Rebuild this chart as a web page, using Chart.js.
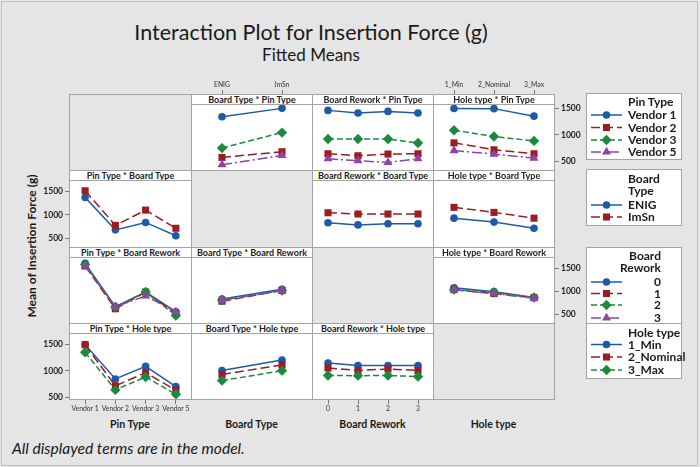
<!DOCTYPE html>
<html>
<head>
<meta charset="utf-8">
<script src="https://cdn.jsdelivr.net/npm/chart.js@4.4.1/dist/chart.umd.min.js"></script>
<style>
html,body{margin:0;padding:0;}
body{width:700px;height:467px;background:#e5e5e5;position:relative;overflow:hidden;font-family:Lato,"Open Sans",sans-serif;color:#1a1a1a;}
.abs{position:absolute;}
#frame{position:absolute;left:1px;top:1px;width:695px;height:463px;border:1px solid #c2c2c2;}
.hdr{position:absolute;background:#fff;border-bottom:1px solid #a3a3a3;text-align:center;font-size:9px;font-weight:700;line-height:10px;white-space:nowrap;overflow:hidden;z-index:3;color:#222;}
.vline,.hline{position:absolute;background:#a3a3a3;z-index:4;}
canvas{position:absolute;z-index:2;}
.axt{position:absolute;font-size:10.5px;font-weight:700;white-space:nowrap;text-align:center;color:#1a1a1a;line-height:16px;}
.lg{position:absolute;background:#fff;border:1px solid #a3a3a3;box-sizing:border-box;z-index:1;}
.lgt{position:absolute;font-size:12px;font-weight:700;white-space:nowrap;color:#1a1a1a;z-index:5;line-height:12px;}
</style>
</head>
<body>
<div id="frame"></div>
<div class="abs" id="title" style="left:0;width:622px;top:18px;text-align:center;font-size:21.5px;line-height:28px;">Interaction Plot for Insertion Force (g)</div>
<div class="abs" id="subtitle" style="left:0;width:622px;top:45px;text-align:center;font-size:17px;line-height:20px;">Fitted Means</div>
<div class="abs" style="left:12px;top:439px;font-size:15.6px;font-style:italic;white-space:nowrap;line-height:18px;">All displayed terms are in the model.</div>
<div class="abs" style="left:31px;top:246px;font-size:12px;font-weight:700;white-space:nowrap;transform:translate(-50%,-50%) rotate(-90deg);">Mean of Insertion Force (g)</div>
<script>
// ---------- data (fitted means) ----------
const pinTypes = ['Vendor 1', 'Vendor 2', 'Vendor 3', 'Vendor 5'];
const boardTypes = ['ENIG', 'ImSn'];
const boardReworks = ['0', '1', '2', '3'];
const holeTypes = ['1_Min', '2_Nominal', '3_Max'];
const yTickValues = [500, 1000, 1500];

// Pin Type x Board Type (one array per board type, across pin types)
const pinBoardENIG = [1368, 680, 838, 556];
const pinBoardImSn = [1510, 776, 1100, 714];
// Pin Type x Board Rework (one array per pin type, across rework levels)
const pinReworkV1 = [1476, 1432, 1459, 1432];
const pinReworkV2 = [742, 708, 737, 742];
const pinReworkV3 = [991, 991, 991, 924];
const pinReworkV5 = [658, 624, 595, 658];
// Pin Type x Hole type (one array per hole type, across pin types)
const pinHoleMin = [1500, 848, 1088, 702];
const pinHoleNom = [1498, 716, 968, 634];
const pinHoleMax = [1355, 640, 885, 556];
// Board Type x Board Rework (one array per board type, across rework levels)
const boardReworkENIG = [872, 835, 855, 855];
const boardReworkImSn = [1038, 1017, 1017, 1017];
// Board Type x Hole type (one array per board type, across hole types)
const boardHoleENIG = [948, 882, 779];
const boardHoleImSn = [1128, 1044, 947];
// Board Rework x Hole type (one array per hole type, across rework levels)
const reworkHoleMin = [1075, 1035, 1035, 1035];
const reworkHoleNom = [992, 950, 975, 950];
const reworkHoleMax = [864, 862, 864, 848];

const factorNames = ['Pin Type', 'Board Type', 'Board Rework', 'Hole type'];
const factorLevels = [pinTypes, boardTypes, boardReworks, holeTypes];

// ---------- build two-factor tables ----------
function transpose(m) { return m[0].map((_, i) => m.map(r => r[i])); }
const T = {
  '0_1': transpose([pinBoardENIG, pinBoardImSn]),
  '0_2': [pinReworkV1, pinReworkV2, pinReworkV3, pinReworkV5],
  '0_3': transpose([pinHoleMin, pinHoleNom, pinHoleMax]),
  '1_2': [boardReworkENIG, boardReworkImSn],
  '1_3': [boardHoleENIG, boardHoleImSn],
  '2_3': transpose([reworkHoleMin, reworkHoleNom, reworkHoleMax])
};
function cell(fa, la, fb, lb) {
  return fa < fb ? T[fa + '_' + fb][la][lb] : T[fb + '_' + fa][lb][la];
}
function seriesFor(xf, tf) {
  return factorLevels[tf].map((_, t) => factorLevels[xf].map((_, x) => cell(xf, x, tf, t)));
}

// ---------- styles ----------
const colors = ['#1f5aa8', '#9c1c22', '#1b8a3d', '#8c45a6'];
const dashes = [[], [9, 4], [6, 3], [10, 3, 2, 3]];
const shapes = ['circle', 'rect', 'rectRot', 'triangle'];
const radii = [3.8, 5, 5.2, 5.2];

// ---------- geometry ----------
const colX = [69, 191, 312, 433, 554];
const rowY = [94, 170, 247, 323, 399];
const HDR = 10;
const YMIN = 467, YMAX = 1567;
const AXW = 40, TOPH = 26, BOTH = 16;

Chart.defaults.font.family = 'Lato, "Open Sans", sans-serif';
Chart.defaults.color = '#222';

function addDiv(cls, l, t, w, h, bg) {
  const d = document.createElement('div');
  d.className = cls;
  Object.assign(d.style, {left: l + 'px', top: t + 'px', width: w + 'px', height: h + 'px'});
  if (bg) d.style.background = bg;
  document.body.appendChild(d);
  return d;
}

for (let r = 0; r < 4; r++) for (let c = 0; c < 4; c++) {
  const d = addDiv('abs', colX[c], rowY[r], colX[c + 1] - colX[c], rowY[r + 1] - rowY[r], r === c ? '#e5e5e5' : '#ffffff');
  d.style.zIndex = 1;
}
colX.forEach(x => addDiv('vline', x, rowY[0], 1, rowY[4] - rowY[0] + 1));
rowY.forEach(y => addDiv('hline', colX[0], y, colX[4] - colX[0] + 1, 1));

function makePanel(r, c) {
  const hd = addDiv('hdr', colX[c] + 1, rowY[r] + 1, colX[c + 1] - colX[c] - 1, HDR - 1);
  hd.textContent = factorNames[c] + ' * ' + factorNames[r];

  const leftAxis = c === 0 && (r === 1 || r === 3);
  const rightAxis = c === 3 && (r === 0 || r === 2);
  const topAxis = r === 0 && (c === 1 || c === 3);
  const bottomAxis = r === 3 && (c === 0 || c === 2);
  const showX = topAxis || bottomAxis, showY = leftAxis || rightAxis;
  let left = colX[c] + 1, top = rowY[r] + HDR + 1;
  let w = colX[c + 1] - colX[c] - 1, h = rowY[r + 1] - rowY[r] - HDR - 1;
  if (leftAxis) { left -= AXW; w += AXW; }
  if (rightAxis) { w += AXW; }
  if (topAxis) { top -= TOPH; h += TOPH; }
  if (bottomAxis) { h += BOTH; }

  const cv = document.createElement('canvas');
  cv.width = w; cv.height = h;
  Object.assign(cv.style, {left: left + 'px', top: top + 'px', width: w + 'px', height: h + 'px'});
  document.body.appendChild(cv);

  const data = seriesFor(c, r);
  new Chart(cv.getContext('2d'), {
    type: 'line',
    data: {
      labels: factorLevels[c],
      datasets: data.map((vals, i) => ({
        label: factorLevels[r][i],
        data: vals,
        borderColor: colors[i],
        backgroundColor: colors[i],
        borderWidth: 1.5,
        borderDash: dashes[i],
        pointStyle: shapes[i],
        pointRadius: radii[i],
        pointBorderWidth: 0,
        pointBackgroundColor: colors[i],
        tension: 0,
        clip: false
      })).reverse()
    },
    options: {
      responsive: false,
      animation: false,
      devicePixelRatio: 1,
      layout: {padding: 0, autoPadding: false},
      plugins: {legend: {display: false}, tooltip: {enabled: false}},
      scales: {
        x: {
          type: 'category',
          offset: true,
          position: topAxis ? 'top' : 'bottom',
          display: showX,
          grid: {drawOnChartArea: false, drawTicks: true, tickLength: topAxis ? 15 : 5, color: '#7a7a7a', lineWidth: 1},
          border: {display: false},
          ticks: {font: {size: 6.8}, color: '#333', padding: 1, maxRotation: 0, autoSkip: false},
          afterFit: s => { s.height = showX ? (topAxis ? TOPH : BOTH) : 0; }
        },
        y: {
          min: YMIN, max: YMAX,
          position: rightAxis ? 'right' : 'left',
          display: showY,
          afterBuildTicks: s => { s.ticks = yTickValues.map(v => ({value: v})); },
          grid: {drawOnChartArea: false, tickLength: 5, color: '#7a7a7a', lineWidth: 1},
          border: {display: false},
          ticks: {font: {size: 8.5, weight: 'bold'}, color: '#222', padding: 2, callback: v => String(v)},
          afterFit: s => { s.width = showY ? AXW : 0; }
        }
      }
    }
  });
}
for (let r = 0; r < 4; r++) for (let c = 0; c < 4; c++) if (r !== c) makePanel(r, c);

factorNames.forEach((n, c) => {
  const d = addDiv('axt', colX[c], 416, colX[c + 1] - colX[c], 16);
  d.textContent = n;
});

// ---------- legends ----------
const LX = 586, LW = 96;
const legends = [
  {f: 0, top: 93, bottom: 160, titleLines: ['Pin Type'], titleY: [102], entryY: [115, 127.5, 140, 152], align: 'left'},
  {f: 1, top: 169, bottom: 226, titleLines: ['Board', 'Type'], titleY: [179, 191], entryY: [205, 217], align: 'left'},
  {f: 2, top: 247, bottom: 324, titleLines: ['Board', 'Rework'], titleY: [256, 267.5], entryY: [282, 293.5, 305, 318], align: 'right'},
  {f: 3, top: 323, bottom: 379, titleLines: ['Hole type'], titleY: [332.5], entryY: [344.5, 357, 370], align: 'left'}
];
const lgCanvas = document.createElement('canvas');
lgCanvas.width = 120; lgCanvas.height = 300;
Object.assign(lgCanvas.style, {left: '580px', top: '90px', width: '120px', height: '300px', zIndex: 6});
document.body.appendChild(lgCanvas);
const lctx = lgCanvas.getContext('2d');
function txt(s, x, y, align) {
  const d = document.createElement('div');
  d.className = 'lgt';
  d.textContent = s;
  d.style.top = (y - 6) + 'px';
  if (align === 'right') { d.style.right = (700 - x) + 'px'; } else { d.style.left = x + 'px'; }
  document.body.appendChild(d);
}
legends.forEach((L, k) => {
  const box = addDiv('lg', LX, L.top, LW, L.bottom - L.top);
  box.style.zIndex = 1 + k;
  L.titleLines.forEach((s, i) => txt(s, L.align === 'right' ? 661 : 628, L.titleY[i], L.align));
  factorLevels[L.f].forEach((lv, i) => {
    const y = L.entryY[i] - 90;
    lctx.save();
    lctx.strokeStyle = colors[i];
    lctx.lineWidth = 1.5;
    lctx.setLineDash(dashes[i]);
    lctx.beginPath(); lctx.moveTo(11, y); lctx.lineTo(42, y); lctx.stroke();
    lctx.restore();
    lctx.fillStyle = colors[i];
    lctx.strokeStyle = colors[i];
    Chart.helpers.drawPoint(lctx, {pointStyle: shapes[i], radius: radii[i], borderWidth: 0}, 26.5, y);
    txt(lv, L.align === 'right' ? 661 : 628, L.entryY[i], L.align);
  });
});
</script>
</body>
</html>
